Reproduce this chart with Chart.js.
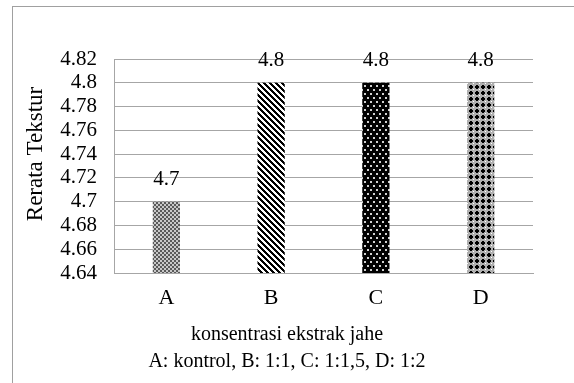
<!DOCTYPE html>
<html>
<head>
<meta charset="utf-8">
<script src="https://cdn.jsdelivr.net/npm/chart.js@4"></script>
<style>
  body { margin: 0; background: #fff; }
  #wrap { position: relative; width: 574px; height: 383px; overflow: hidden; }
  #frame { position: absolute; left: 12px; top: 6px; width: 600px; height: 400px; border: 1px solid #a0a0a0; }
  canvas { position: absolute; left: 0; top: 0; }
</style>
</head>
<body>
<div id="wrap">
  <div id="frame"></div>
  <canvas id="myChart" width="574" height="383"></canvas>
</div>
<script>
// data
const kategori = ["A", "B", "C", "D"]
const nilai = [4.7, 4.8, 4.8, 4.8]
const yTicks = [4.64, 4.66, 4.68, 4.7, 4.72, 4.74, 4.76, 4.78, 4.8, 4.82]
const judulY = "Rerata Tekstur"
const judulX = ["konsentrasi ekstrak jahe", "A: kontrol, B: 1:1, C: 1:1,5, D: 1:2"]

const serif = '"Liberation Serif", "Times New Roman", serif'

const ChartElement = document.getElementById('myChart')
const ctx = ChartElement.getContext('2d')

// kleine Muster fuer die Balken
function makePattern(w, h, draw) {
    const c = document.createElement('canvas')
    c.width = w
    c.height = h
    draw(c.getContext('2d'))
    return ctx.createPattern(c, 'repeat')
}

const musterA = makePattern(4, 4, g => {
    g.fillStyle = '#5a5a5a'
    g.fillRect(0, 0, 4, 4)
    g.fillStyle = '#c8c8c8'
    g.fillRect(0, 0, 2, 2)
    g.fillRect(2, 2, 2, 2)
})

const musterB = makePattern(6, 6, g => {
    g.fillStyle = '#fff'
    g.fillRect(0, 0, 6, 6)
    g.fillStyle = '#000'
    for (let y = 0; y < 6; y++) {
        for (let x = 0; x < 6; x++) {
            if (((x - y) % 6 + 6) % 6 < 3) g.fillRect(x, y, 1, 1)
        }
    }
})

const musterC = makePattern(6, 8, g => {
    g.fillStyle = '#000'
    g.fillRect(0, 0, 6, 8)
    g.fillStyle = '#d0d0d0'
    g.fillRect(1, 1, 2, 2)
    g.fillRect(4, 5, 2, 2)
})

const musterD = makePattern(6, 6, g => {
    g.fillStyle = '#b0b0b0'
    g.fillRect(0, 0, 6, 6)
    g.fillStyle = '#000'
    g.fillRect(1, 2, 4, 2)
    g.fillRect(2, 1, 2, 4)
    g.fillStyle = '#fff'
    g.fillRect(5, 5, 1, 1)
})

// Werte ueber den Balken und Achsentitel
const beschriftung = {
    id: 'beschriftung',
    afterDraw(chart) {
        const c = chart.ctx
        const meta = chart.getDatasetMeta(0)
        c.save()
        c.fillStyle = '#000'
        c.textAlign = 'center'
        c.textBaseline = 'middle'
        c.font = '21px ' + serif
        meta.data.forEach((bar, i) => {
            c.fillText(String(nilai[i]), bar.x, bar.y - 22)
        })
        // x Titel, mittig auf der ganzen Grafik
        c.font = '20px ' + serif
        c.fillText(judulX[0], chart.width / 2, 335)
        c.fillText(judulX[1], chart.width / 2, 362)
        // y Titel
        c.translate(36, 154)
        c.rotate(-Math.PI / 2)
        c.font = '23px ' + serif
        c.fillText(judulY, 0, 0)
        c.restore()
    }
}

const chart = new Chart(ChartElement, {
    type: 'bar',
    data: {
        labels: kategori,
        datasets: [{
            data: nilai,
            backgroundColor: [musterA, musterB, musterC, musterD],
            categoryPercentage: 1,
            barPercentage: 0.26
        }]
    },
    options: {
        responsive: false,
        animation: false,
        layout: { padding: { left: 14, right: 41, top: 59, bottom: 0 } },
        plugins: {
            legend: { display: false },
            tooltip: { enabled: false }
        },
        scales: {
            y: {
                min: yTicks[0],
                max: yTicks[yTicks.length - 1],
                afterFit: s => { s.width = 100 },
                afterBuildTicks: s => { s.ticks = yTicks.map(v => ({ value: v })) },
                ticks: {
                    autoSkip: false,
                    padding: 17,
                    color: '#000',
                    font: { family: serif, size: 21 },
                    callback: v => String(Math.round(v * 100) / 100)
                },
                grid: { color: '#a6a6a6', drawTicks: false },
                border: { color: '#a6a6a6' }
            },
            x: {
                afterFit: s => { s.height = 110 },
                ticks: {
                    padding: 12,
                    color: '#000',
                    font: { family: serif, size: 22, lineHeight: 1.2 }
                },
                grid: { drawOnChartArea: false, drawTicks: false },
                border: { color: '#a6a6a6' }
            }
        }
    },
    plugins: [beschriftung]
})
</script>
</body>
</html>
